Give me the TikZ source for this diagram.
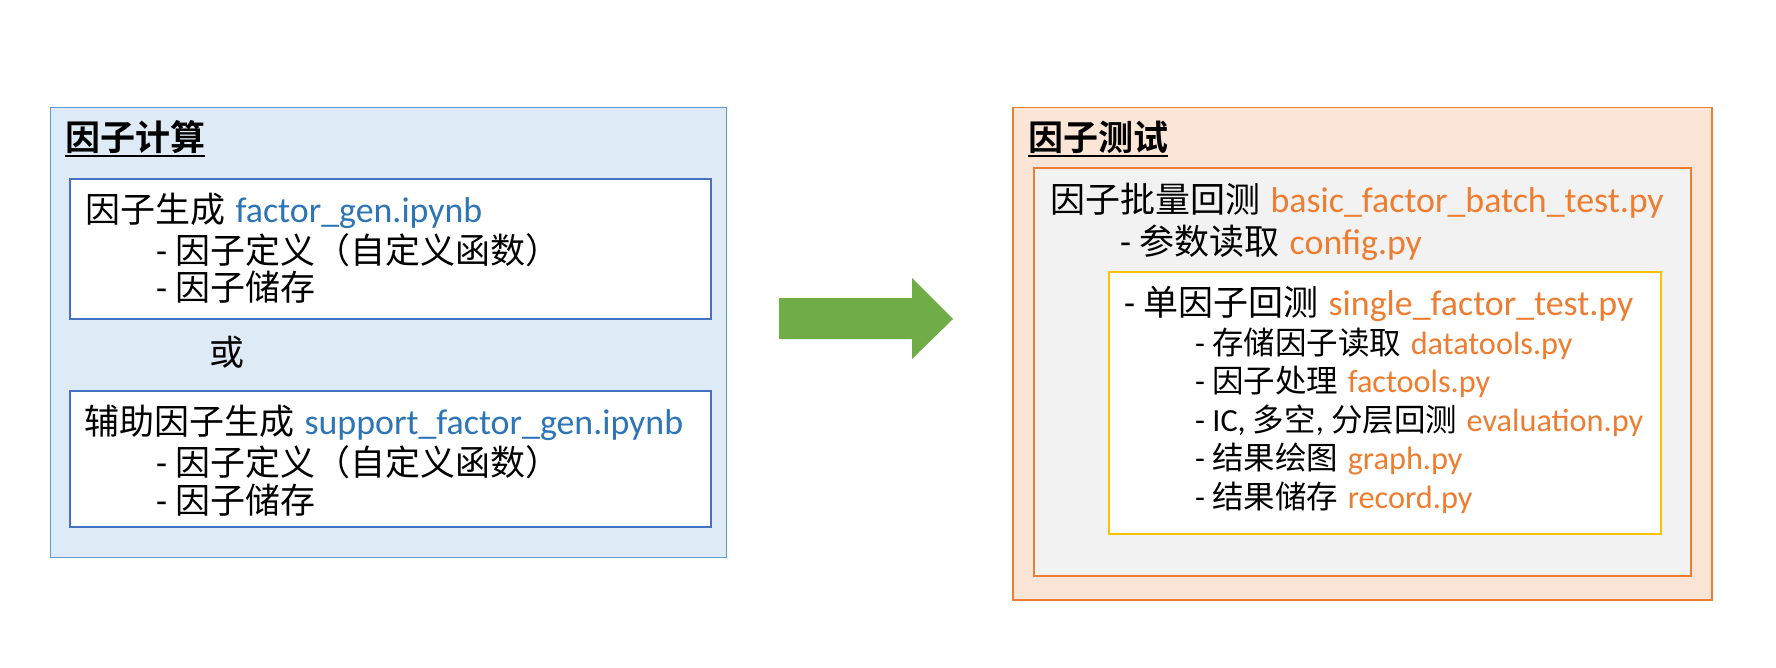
\documentclass[tikz,border=0pt]{standalone}
\usepackage{fontspec}
\setmainfont{Carlito}[Scale=1.025]
\newfontfamily\cjk{Noto Sans CJK SC}[BoldFont={Noto Sans CJK SC Bold}]
\newcommand\zhs[1]{{\cjk #1}}
\newcommand\gp{\hspace{0.29em}}
\definecolor{lblue}{HTML}{DEEBF7}
\definecolor{mblue}{HTML}{5B9BD5}
\definecolor{dblue}{HTML}{4472C4}
\definecolor{tblue}{HTML}{2E75B6}
\definecolor{orng}{HTML}{ED7D31}
\definecolor{lorng}{HTML}{FBE5D6}
\definecolor{lgray}{HTML}{F2F2F2}
\definecolor{ylw}{HTML}{FFC000}
\definecolor{grn}{HTML}{70AD47}
\begin{document}
\begin{tikzpicture}[x=1pt,y=-1pt,
  boxn/.style={anchor=north west, inner sep=0, outer sep=0},
  txt/.style={anchor=base west, inner sep=0, font=\fontsize{35}{42}\selectfont},
  txts/.style={anchor=base west, inner sep=0, font=\fontsize{31.5}{38}\selectfont},
  ttl/.style={anchor=base west, inner sep=0, font=\fontsize{35}{42}\selectfont\bfseries}]
\useasboundingbox (0,0) rectangle (1776,667);
\fill[white] (0,0) rectangle (1776,667);

% left group
\node[boxn, draw=mblue, fill=lblue, line width=1.5pt, minimum width=676pt, minimum height=450pt] (lout) at (50.5,107.5) {};
\node[boxn, draw=dblue, fill=white, line width=2pt, minimum width=641pt, minimum height=140pt] (lb1) at (70,179) {};
\node[boxn, draw=dblue, fill=white, line width=2pt, minimum width=641pt, minimum height=136pt] (lb2) at (70,391) {};

\node[ttl] (ltitle) at (65,150) {\zhs{因子计算}};
\draw[line width=2pt] ([yshift=-6pt]ltitle.base west) -- ([yshift=-6pt]ltitle.base east);

\node[txt] (l1a) at (85,222) {\zhs{因子生成}\gp\textcolor{tblue}{factor\_gen.ipynb}};
\node[txt] (l1b) at (156,263) {- \zhs{因子定义（自定义函数）}};
\node[txt] (l1c) at (156,300) {- \zhs{因子储存}};
\node[anchor=base, inner sep=0, font=\fontsize{35}{42}\selectfont] (lor) at (227,365) {\zhs{或}};
\node[txt] (l2a) at (84,434) {\zhs{辅助因子生成}\gp\textcolor{tblue}{support\_factor\_gen.ipynb}};
\node[txt] (l2b) at (156,475) {- \zhs{因子定义（自定义函数）}};
\node[txt] (l2c) at (156,513) {- \zhs{因子储存}};

% arrow
\fill[grn] (779,298) -- (912,298) -- (912,278) -- (953,319) -- (912,359) -- (912,339) -- (779,339) -- cycle;

% right group
\node[boxn, draw=orng, fill=lorng, line width=1.5pt, minimum width=699pt, minimum height=492.5pt] (rout) at (1013,107.5) {};
\node[boxn, draw=orng, fill=lgray, line width=2pt, minimum width=657.5pt, minimum height=408pt] (rgray) at (1033.5,168) {};
\node[boxn, draw=ylw, fill=white, line width=2pt, minimum width=552pt, minimum height=262pt] (ryel) at (1109,272) {};

\node[ttl] (rtitle) at (1028,150) {\zhs{因子测试}};
\draw[line width=2pt] ([yshift=-6pt]rtitle.base west) -- ([yshift=-6pt]rtitle.base east);

\node[txt] (r1) at (1050,212) {\zhs{因子批量回测}\gp\textcolor{orng}{basic\_factor\_batch\_test.py}};
\node[txt] (r2) at (1120,254) {- \zhs{参数读取}\gp\textcolor{orng}{config.py}};
\node[txt] (r3) at (1124,315) {- \zhs{单因子回测}\gp\textcolor{orng}{single\_factor\_test.py}};
\node[txts] (r4) at (1195,354) {- \zhs{存储因子读取}\gp\textcolor{orng}{datatools.py}};
\node[txts] (r5) at (1195,392) {- \zhs{因子处理}\gp\textcolor{orng}{factools.py}};
\node[txts] (r6) at (1195,431) {- IC, \zhs{多空}, \zhs{分层回测}\gp\textcolor{orng}{evaluation.py}};
\node[txts] (r7) at (1195,469) {- \zhs{结果绘图}\gp\textcolor{orng}{graph.py}};
\node[txts] (r8) at (1195,508) {- \zhs{结果储存}\gp\textcolor{orng}{record.py}};
\end{tikzpicture}
\end{document}
